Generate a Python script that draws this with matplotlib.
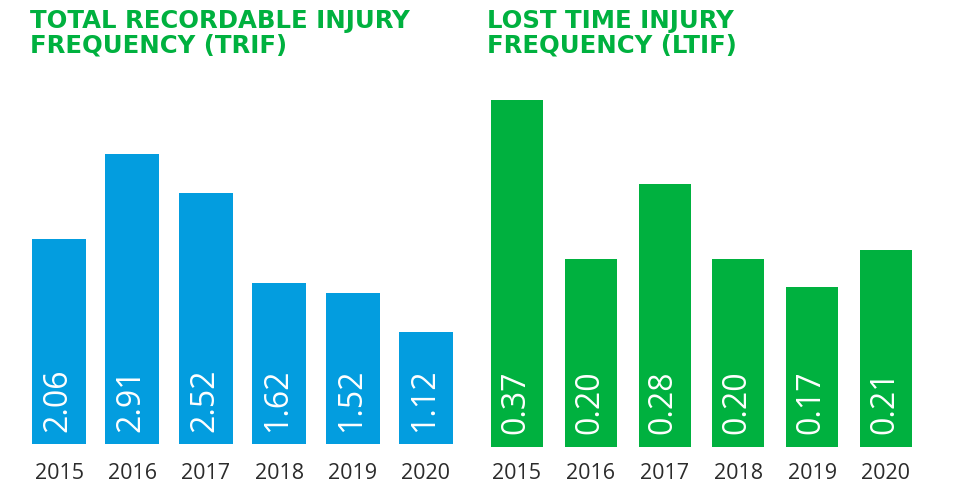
import matplotlib
matplotlib.use("Agg")
import matplotlib.pyplot as plt

BLUE, GREEN, DARK = "#039DDF", "#00B13F", "#2B2B2B"

years = ["2015", "2016", "2017", "2018", "2019", "2020"]
trif = [2.06, 2.91, 2.52, 1.62, 1.52, 1.12]
ltif = [0.37, 0.20, 0.28, 0.20, 0.17, 0.21]
titles = ["TOTAL RECORDABLE INJURY\nFREQUENCY (TRIF)", "LOST TIME INJURY\nFREQUENCY (LTIF)"]

NUMFONT = "Open Sans"

fig = plt.figure(figsize=(9.54, 4.84), dpi=100)
ax1 = fig.add_axes([0.0234, 0.0826, 0.4616, 0.6178])
ax2 = fig.add_axes([0.5032, 0.0771, 0.4642, 0.7744])


def panel(ax, vals, color, top, width, pad):
    x = range(len(vals))
    bars = ax.bar(x, vals, width, color=color)
    for r, v in zip(bars, vals):
        ax.annotate(f"{v:.2f}", (r.get_x() + r.get_width() / 2, 0), xytext=(-1, 9),
                    textcoords="offset points", rotation=90, ha="center", va="bottom",
                    color="white", fontsize=23, family=NUMFONT)
    ax.set_xlim(-0.5, len(vals) - 0.5)
    ax.set_ylim(0, top)
    ax.set_xticks(list(x))
    ax.set_xticklabels(years, fontsize=15.5, family=NUMFONT, color=DARK)
    ax.tick_params(axis="x", length=0, pad=pad)
    ax.set_yticks([])
    for s in ax.spines.values():
        s.set_visible(False)


panel(ax1, trif, BLUE, 3.0, 0.735, 14)
panel(ax2, ltif, GREEN, 0.4, 0.705, 12)

for xpos, t in zip([30 / 954, 487 / 954], titles):
    fig.text(xpos, 1 - 9 / 484, t, ha="left", va="top", fontsize=17.6, fontweight="bold",
             family="DejaVu Sans", color=GREEN, linespacing=1.05)

fig.savefig("out.png", dpi=100)
